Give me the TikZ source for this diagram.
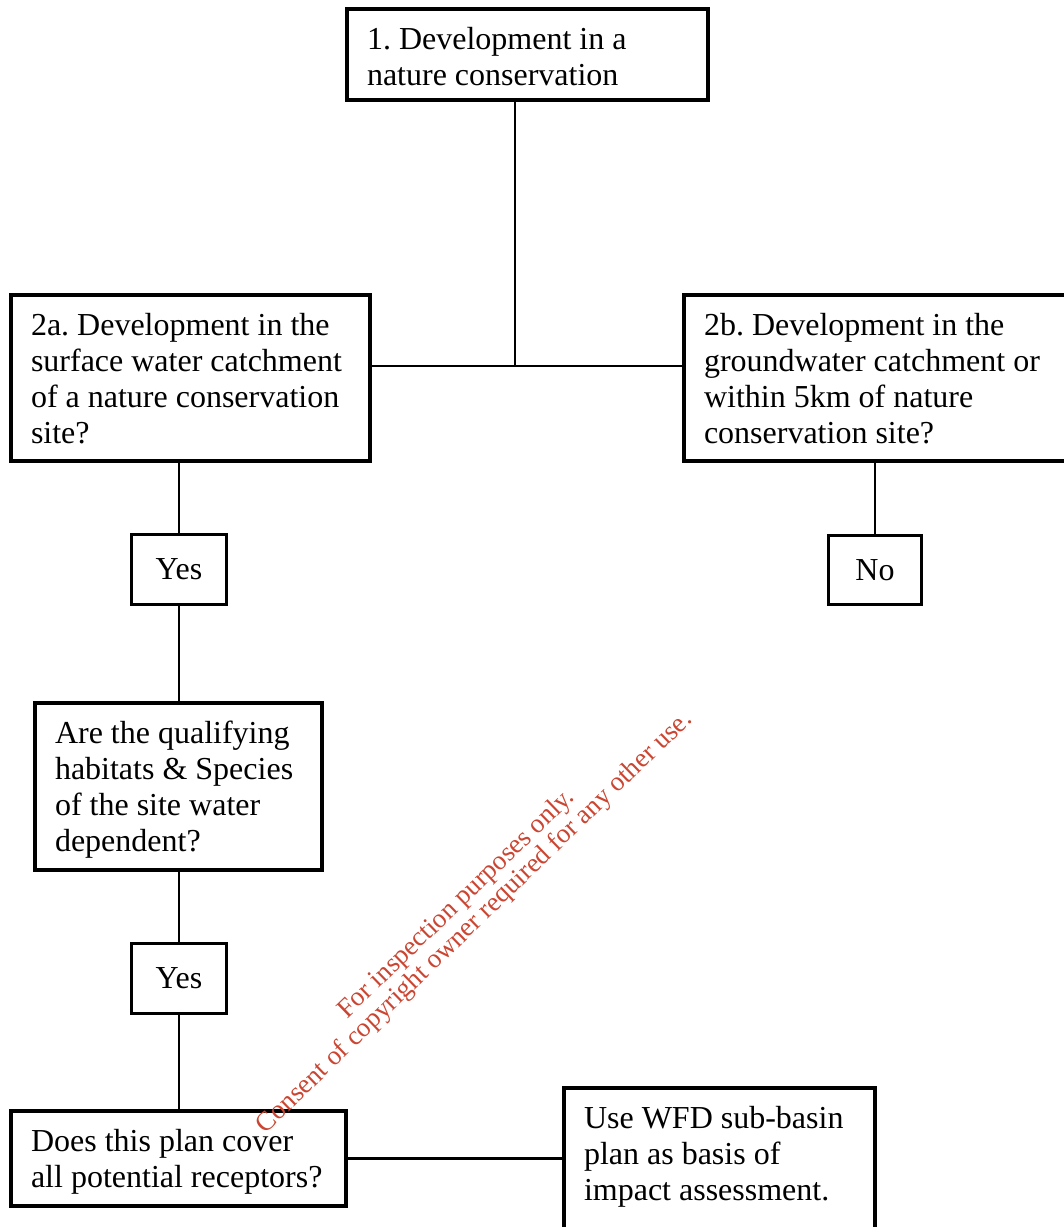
\documentclass[tikz,border=0pt]{standalone}
\usepackage{fontspec}
\setmainfont{Liberation Serif}
\frenchspacing
\definecolor{stampred}{RGB}{203,70,50}
\tikzstyle{bigbox} = [
    rectangle, 
    draw=black, 
    line width=4pt, 
    anchor=north west, 
    inner xsep=20pt, 
    inner ysep=15pt, 
    font=\fontsize{32}{36}\selectfont
]
\tikzstyle{answer} = [
    rectangle, 
    draw=black, 
    line width=3pt, 
    inner sep=0pt, 
    minimum width=95pt, 
    minimum height=70pt, 
    font=\fontsize{32}{36}\selectfont
]
\tikzstyle{link} = [line width=2.5pt]
\tikzstyle{stamp} = [
    text=stampred, 
    align=center, 
    rotate=44, 
    font=\fontsize{27}{26}\selectfont
]
% top aligned text block of a box: width, height, text
\newcommand{\boxbody}[3]{\parbox[t][#2][t]{#1}{\strut #3}}

\begin{document}
\begin{tikzpicture}[x=1pt, y=-1pt]
    \useasboundingbox (0,0) rectangle (1064,1227);

    % Start
    \node (start) [bigbox] at (345,7) {\boxbody{321pt}{61pt}{1. Development in a\\nature conservation}};

    % Catchments
    \node (surface) [bigbox] at (9,293) {\boxbody{319pt}{136pt}{2a. Development in the\\surface water catchment\\of a nature conservation\\site?}};
    
    \node (ground) [bigbox] at (682,293) {\boxbody{346pt}{136pt}{2b. Development in the\\groundwater catchment or\\within 5km of nature\\conservation site?}};

    % Answers
    \node (yesone) [answer] at (179,569.5) {Yes};
    \node (answerno) [answer, minimum width=93pt, minimum height=69pt] at (875,570) {No};

    % Water dependence
    \node (depend) [bigbox] at (33,701) {\boxbody{247pt}{137pt}{Are the qualifying\\habitats \& Species\\of the site water\\dependent?}};

    \node (yestwo) [answer] at (179,978.5) {Yes};

    % Receptors
    \node (cover) [bigbox] at (9,1109) {\boxbody{295pt}{65pt}{Does this plan cover\\all potential receptors?}};
    
    \node (basin) [bigbox] at (562,1086) {\boxbody{271pt}{138pt}{Use WFD sub-basin\\plan as basis of\\impact assessment.}};

    % Split point below the start box
    \coordinate (split) at (515,366);

    % Connectors
    \draw [link] (split |- start.south) -- (split);
    \draw [link] (surface.east |- split) -- (ground.west |- split);
    \draw [link] (yesone |- surface.south) -- (yesone.north);
    \draw [link] (answerno |- ground.south) -- (answerno.north);
    \draw [link] (yesone.south) -- (yesone |- depend.north);
    \draw [link] (yestwo |- depend.south) -- (yestwo.north);
    \draw [link] (yestwo.south) -- (yestwo |- cover.north);
    \draw [link] (cover.east) -- (cover.east -| basin.west);

    % Watermark
    \node (watermark) [stamp] at (466,913.5) {For inspection purposes only.\\Consent of copyright owner required for any other use.};
\end{tikzpicture}
\end{document}
